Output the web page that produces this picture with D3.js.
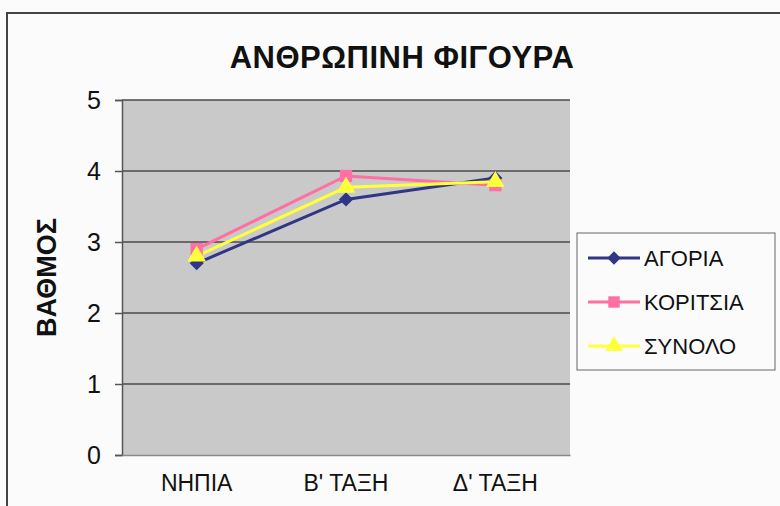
<!DOCTYPE html>
<html>
<head>
<meta charset="utf-8">
<script src="https://cdn.jsdelivr.net/npm/d3@7"></script>
<style>
  body { margin: 0; background: #fbfbfb; }
  text { font-family: "Liberation Sans", Arial, sans-serif; fill: #111; }
</style>
</head>
<body>
<div id="chart"></div>
<script>
// data
const categories = ["ΝΗΠΙΑ", "Β' ΤΑΞΗ", "Δ' ΤΑΞΗ"];
const seriesNames = ["ΑΓΟΡΙΑ", "ΚΟΡΙΤΣΙΑ", "ΣΥΝΟΛΟ"];
const agoria = [2.7, 3.6, 3.9];
const koritsia = [2.9, 3.93, 3.8];
const synolo = [2.8, 3.77, 3.85];
const yTicks = [0, 1, 2, 3, 4, 5];

const width = 780;
const height = 506;
const margin = {top: 100, left: 122, right: 210, bottom: 51};

const colors = ["#2f3785", "#ff6fa3", "#ffff3a"];
const symbols = [d3.symbolSquare, d3.symbolSquare, d3.symbolTriangle];
const rotations = [45, 0, 0];
const series = [agoria, koritsia, synolo];

const svg = d3.select("#chart")
    .append("svg")
    .attr("width", width)
    .attr("height", height);

// outer frame
svg.append("rect")
    .attr("x", 7).attr("y", 13)
    .attr("width", 790).attr("height", 520)
    .attr("fill", "#fbfbfb")
    .attr("stroke", "#444")
    .attr("stroke-width", 2);

// scales
const xScale = d3.scaleBand()
    .domain(categories)
    .range([margin.left, width - margin.right]);

const yScale = d3.scaleLinear()
    .domain([0, 5])
    .range([height - margin.bottom, margin.top]);

// plot background
svg.append("rect")
    .attr("x", margin.left)
    .attr("y", margin.top)
    .attr("width", width - margin.right - margin.left)
    .attr("height", height - margin.bottom - margin.top)
    .attr("fill", "#c9c9c9");

// gridlines
svg.append("g")
    .selectAll("line")
    .data(yTicks.filter(d => d > 0))
    .enter()
    .append("line")
        .attr("x1", margin.left)
        .attr("x2", width - margin.right)
        .attr("y1", d => yScale(d))
        .attr("y2", d => yScale(d))
        .attr("stroke", "#4a4a4a")
        .attr("stroke-width", 1.5);

// axes
const yAxis = svg.append("g")
    .attr("transform", `translate(${margin.left},0)`)
    .call(d3.axisLeft(yScale).tickValues(yTicks).tickSize(7).tickPadding(14).tickFormat(d3.format("d")));
yAxis.select(".domain").attr("stroke", "#555").attr("stroke-width", 1.5);
yAxis.selectAll(".tick line").attr("stroke", "#555").attr("stroke-width", 1.5);
yAxis.selectAll("text").style("font-size", "25px").attr("fill", "#111");

const xAxis = svg.append("g")
    .attr("transform", `translate(0,${height - margin.bottom})`)
    .call(d3.axisBottom(xScale).tickSize(0).tickPadding(20));
xAxis.select(".domain").attr("stroke", "#8a8a8a").attr("stroke-width", 1.5);
xAxis.selectAll("text").style("font-size", "23px").attr("fill", "#111");

// lines and markers
const line = d3.line()
    .x((d, i) => xScale(categories[i]) + xScale.bandwidth() / 2)
    .y(d => yScale(d));

series.forEach(function(values, s) {
    svg.append("path")
        .datum(values)
        .attr("d", line)
        .attr("fill", "none")
        .attr("stroke", colors[s])
        .attr("stroke-width", 3);
});

series.forEach(function(values, s) {
    svg.append("g")
        .selectAll("path")
        .data(values)
        .enter()
        .append("path")
            .attr("transform", (d, i) => `translate(${xScale(categories[i]) + xScale.bandwidth() / 2},${yScale(d)}) rotate(${rotations[s]})`)
            .attr("d", d3.symbol().type(symbols[s]).size(s === 0 ? 100 : 150))
            .attr("fill", colors[s]);
});

// title
svg.append("text")
    .attr("x", 402)
    .attr("y", 68)
    .attr("text-anchor", "middle")
    .style("font-size", "31px")
    .style("font-weight", "bold")
    .style("letter-spacing", "0.5px")
    .text("ΑΝΘΡΩΠΙΝΗ ΦΙΓΟΥΡΑ");

// y label
svg.append("text")
    .attr("transform", `translate(56,${(margin.top + height - margin.bottom) / 2}) rotate(-90)`)
    .attr("text-anchor", "middle")
    .style("font-size", "27px")
    .style("font-weight", "bold")
    .text("ΒΑΘΜΟΣ");

// legend
const legend = svg.append("g").attr("transform", "translate(577,233)");
legend.append("rect")
    .attr("width", 198).attr("height", 137)
    .attr("fill", "#fbfbfb")
    .attr("stroke", "#666")
    .attr("stroke-width", 1);

seriesNames.forEach(function(name, i) {
    const y = 25 + i * 44;
    legend.append("line")
        .attr("x1", 11).attr("x2", 63)
        .attr("y1", y).attr("y2", y)
        .attr("stroke", colors[i])
        .attr("stroke-width", 3);
    legend.append("path")
        .attr("transform", `translate(37,${y}) rotate(${rotations[i]})`)
        .attr("d", d3.symbol().type(symbols[i]).size(i === 0 ? 90 : 130))
        .attr("fill", colors[i]);
    legend.append("text")
        .attr("x", 67)
        .attr("y", y + 8)
        .style("font-size", "22px")
        .text(name);
});
</script>
</body>
</html>
